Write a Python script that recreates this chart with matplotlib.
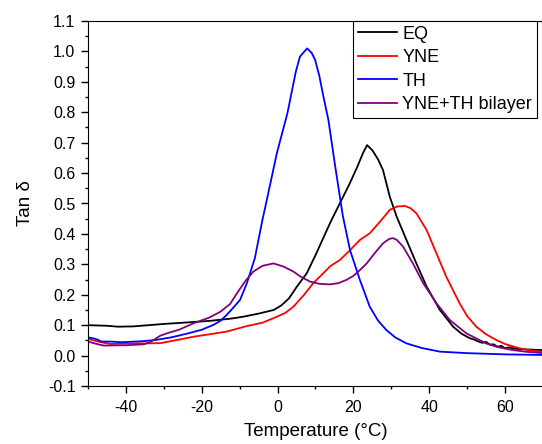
import matplotlib
matplotlib.use("Agg")
from matplotlib import pyplot as plt
from matplotlib.ticker import MultipleLocator, FormatStrFormatter

plt.rcParams['font.family'] = ['Liberation Sans', 'DejaVu Sans']
plt.rcParams['axes.unicode_minus'] = False

# EQ (black)
eq_t = [-50, -45, -42, -38, -30, -25, -18, -12, -9, -5, -1, 1, 3, 5, 7.7, 10, 12, 14, 16.4, 19,
        21, 22.5, 23.6, 25, 26.5, 27.8, 29.6, 31.4, 34, 36.6, 39.3, 42.8, 46.3, 48.5, 50.7,
        52, 53, 54, 55, 56, 57, 58, 59, 60, 61, 63, 66, 70]
eq_v = [0.100, 0.098, 0.095, 0.096, 0.104, 0.108, 0.114, 0.122, 0.128, 0.138, 0.150, 0.165, 0.188,
        0.225, 0.271, 0.330, 0.385, 0.440, 0.500, 0.565, 0.620, 0.665, 0.692, 0.675, 0.645,
        0.610, 0.522, 0.457, 0.380, 0.303, 0.227, 0.150, 0.095, 0.072, 0.057,
        0.052, 0.046, 0.042, 0.045, 0.036, 0.037, 0.029, 0.032, 0.024, 0.027, 0.022, 0.020, 0.018]

# YNE (red)
yne_t = [-50, -47, -44, -40, -35, -30.9, -27, -22.2, -18, -13.4, -8.1, -4, -1.1, 2, 4.2, 7, 9.4,
         12, 14, 16.4, 19, 21.7, 24.3, 27, 29.6, 31.5, 33.6, 35, 36.6, 39.3, 41.9, 44.5, 48,
         50, 52.4, 55, 57.7, 60, 63.8, 67, 70]
yne_v = [0.055, 0.045, 0.038, 0.040, 0.040, 0.041, 0.050, 0.062, 0.070, 0.079, 0.097, 0.108, 0.123,
         0.140, 0.161, 0.200, 0.238, 0.270, 0.295, 0.314, 0.345, 0.380, 0.402, 0.440, 0.479,
         0.490, 0.492, 0.485, 0.468, 0.413, 0.336, 0.259, 0.172, 0.130, 0.095, 0.070, 0.051,
         0.038, 0.024, 0.016, 0.012]

# TH (blue)
th_t = [-50, -48, -46.4, -44, -41.1, -36, -32.3, -28, -23.6, -20, -16.9, -15, -13.4, -11.5, -9.9,
        -8.1, -6, -4, -2.8, -0.2, 2.6, 4.8, 5.9, 7.8, 9.0, 9.9, 11, 12.1, 13.4, 15.1, 17.2, 19.1,
        21.7, 24.3, 26.5, 28.7, 31, 34, 38, 42.8, 50, 60, 70]
th_v = [0.060, 0.055, 0.046, 0.046, 0.044, 0.047, 0.051, 0.060, 0.073, 0.085, 0.101, 0.115, 0.134,
        0.160, 0.183, 0.238, 0.320, 0.446, 0.514, 0.665, 0.797, 0.933, 0.983, 1.010, 0.995, 0.972,
        0.920, 0.851, 0.775, 0.630, 0.460, 0.347, 0.249, 0.161, 0.115, 0.084, 0.060, 0.040,
        0.025, 0.013, 0.008, 0.004, 0.002]

# YNE+TH bilayer (purple)
bi_t = [-50, -47, -45.8, -40, -35.3, -33.5, -32.7, -31, -29.2, -26, -22.2, -18, -15.1, -12.5, -10.7,
        -8.5, -6.4, -4, -1.1, 1.5, 4.2, 6, 8.6, 11, 13.8, 16, 18.2, 20, 21.7, 23.5, 25.5, 27.8,
        29.5, 30.5, 31.5, 33.1, 35.7, 38.4, 41.9, 45.4, 49.8, 55, 58, 62.1, 66, 70]
bi_v = [0.046, 0.036, 0.033, 0.034, 0.037, 0.045, 0.051, 0.065, 0.073, 0.085, 0.106, 0.125, 0.144,
        0.170, 0.205, 0.245, 0.276, 0.295, 0.303, 0.293, 0.276, 0.260, 0.243, 0.236, 0.234, 0.238,
        0.249, 0.262, 0.281, 0.303, 0.335, 0.369, 0.384, 0.386, 0.380, 0.358, 0.303, 0.238,
        0.172, 0.117, 0.073, 0.040, 0.028, 0.018, 0.012, 0.008]

fig = plt.figure(figsize=(5.42, 4.44), dpi=100)
ax = fig.add_axes([88 / 542, 58 / 444, 455 / 542, 365 / 444])

lw = 1.3
ax.plot(eq_t, eq_v, color='black', lw=lw, label='EQ')
ax.plot(yne_t, yne_v, color='#ff0000', lw=lw, label='YNE')
ax.plot(th_t, th_v, color='#0000ff', lw=lw, label='TH')
ax.plot(bi_t, bi_v, color='#800080', lw=lw, label='YNE+TH bilayer')

ax.set_xlim(-50, 70)
ax.set_ylim(-0.1, 1.1)
ax.xaxis.set_major_locator(MultipleLocator(20))
ax.xaxis.set_minor_locator(MultipleLocator(10))
ax.yaxis.set_major_locator(MultipleLocator(0.1))
ax.yaxis.set_minor_locator(MultipleLocator(0.05))
ax.yaxis.set_major_formatter(FormatStrFormatter('%.1f'))
ax.tick_params(which='major', direction='out', length=5, width=1, labelsize=11.5, pad=4)
ax.tick_params(which='minor', direction='out', length=2.5, width=1)
ax.tick_params(axis='x', which='major', pad=5)

ax.set_xlabel('Temperature (°C)', fontsize=13.5, labelpad=6)
ax.set_ylabel('Tan δ', fontsize=13.5, labelpad=10)

leg = ax.legend(loc='upper left', bbox_to_anchor=(265 / 455, 1.0), borderaxespad=0,
                fontsize=13, handlelength=2.2, handletextpad=0.28, borderpad=0.25,
                labelspacing=0.36, fancybox=False, framealpha=1)
leg.get_frame().set_edgecolor('black')
leg.get_frame().set_linewidth(0.8)

fig.savefig('out.png', dpi=100)
